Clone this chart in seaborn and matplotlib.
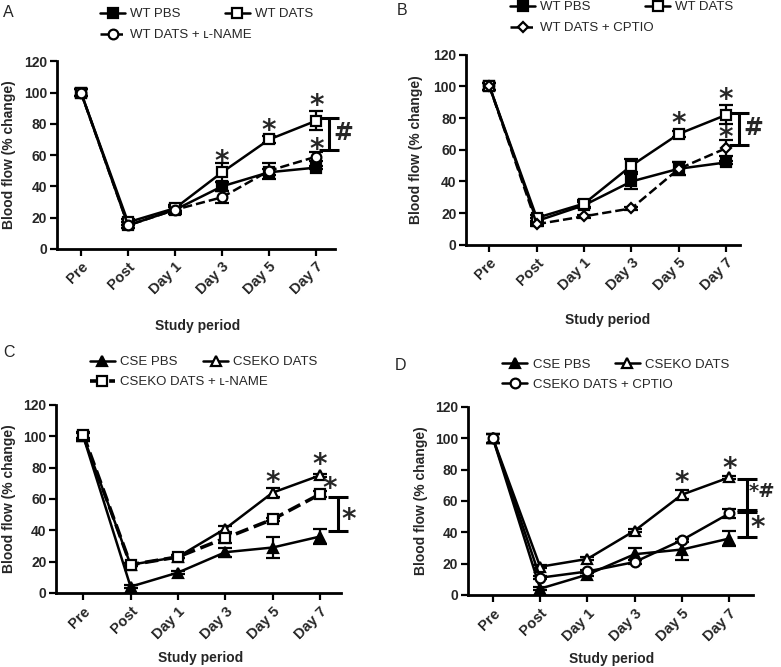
import numpy as np
import pandas as pd
import matplotlib
matplotlib.use("Agg")
import matplotlib.pyplot as plt
import seaborn as sns

periods = ["Pre", "Post", "Day 1", "Day 3", "Day 5", "Day 7"]

# panel A
a_wt_pbs = [100, 15, 25, 40, 49, 52]
a_wt_pbs_err = [2, 2, 3, 3, 2, 1]
a_wt_dats = [100, 17, 26, 49, 70, 82]
a_wt_dats_err = [2, 2, 2, 6, 2, 6]
a_lname = [100, 15, 25, 33, 50, 59]
a_lname_err = [2, 2, 2, 4, 5, 3]

# panel B
b_wt_pbs = [100, 15, 25, 40, 48, 52]
b_wt_pbs_err = [2, 2, 2, 5, 4, 1]
b_wt_dats = [100, 17, 26, 50, 70, 82]
b_wt_dats_err = [2, 2, 2, 4, 2, 6]
b_cptio = [100, 13, 18, 23, 48, 61]
b_cptio_err = [2, 1, 1, 1, 4, 5]

# panel C
c_cse_pbs = [100, 4, 13, 26, 29, 36]
c_cse_pbs_err = [2, 1, 1, 3, 7, 5]
c_cseko_dats = [100, 18, 23, 41, 64, 75]
c_cseko_dats_err = [3, 1, 1, 2, 3, 1]
c_lname = [101, 18, 23, 35, 47, 63]
c_lname_err = [2, 1, 1, 3, 1, 2]

# panel D
d_cse_pbs = [100, 4, 13, 26, 29, 36]
d_cse_pbs_err = [3, 1, 1, 4, 7, 5]
d_cseko_dats = [100, 18, 23, 41, 64, 75]
d_cseko_dats_err = [3, 1, 1, 1, 3, 1]
d_cptio = [100, 11, 15, 21, 35, 52]
d_cptio_err = [3, 1, 1, 1, 1, 3]

sns.set_theme(style="ticks")
plt.rcParams['font.family'] = ['Liberation Sans', 'DejaVu Sans']

fig = plt.figure(figsize=(7.81, 6.67), dpi=100)

x = np.arange(len(periods))


def draw_series(ax, vals, errs, label, marker, filled, ls="-", lw=1.8):
    df = pd.DataFrame({"period": x, "value": vals})
    sns.lineplot(data=df, x="period", y="value", ax=ax, color="black",
                 marker=marker, markersize=7 if marker != "D" else 5.5,
                 markerfacecolor="black" if filled else "white",
                 markeredgecolor="black", markeredgewidth=1.6,
                 linestyle=ls, linewidth=lw, label=label, zorder=3)
    ax.errorbar(x, vals, yerr=errs, fmt="none", ecolor="black",
                elinewidth=1.6, capsize=5, capthick=1.6, zorder=2)


def style_axes(ax, pos, xlim, xlab_pos, ylab_pos):
    ax.set_position(pos)
    ax.set_xlim(*xlim)
    ax.set_ylim(0, 120)
    ax.set_xticks(x)
    ax.set_xticklabels(periods, rotation=45, ha="right", rotation_mode="anchor",
                       fontsize=10.5, fontweight="bold")
    ax.set_yticks(np.arange(0, 121, 20))
    ax.set_yticklabels([str(v) for v in range(0, 121, 20)], fontsize=10, fontweight="bold")
    ax.tick_params(axis="both", width=1.6, length=5, color="black", pad=2)
    ax.tick_params(axis="x", pad=3)
    for s in ["left", "bottom"]:
        ax.spines[s].set_linewidth(2)
        ax.spines[s].set_color("black")
    sns.despine(ax=ax)
    ax.set_xlabel("Study period", fontsize=10, fontweight="bold")
    ax.set_ylabel("Blood flow (% change)", fontsize=10, fontweight="bold")
    ax.xaxis.set_label_coords(*xlab_pos)
    ax.yaxis.set_label_coords(*ylab_pos)


def add_legend(ax, anchors):
    # one small legend per entry so each sits where the reference has it
    handles, labels = ax.get_legend_handles_labels()
    legs = []
    for h, l, a in zip(handles, labels, anchors):
        leg = ax.legend([h], [l], loc="center left", bbox_to_anchor=a,
                        bbox_transform=fig.transFigure, frameon=False,
                        fontsize=9.5, handlelength=1.9, handletextpad=0.4,
                        borderpad=0, borderaxespad=0)
        legs.append(leg)
    for leg in legs[:-1]:
        ax.add_artist(leg)


def star(ax, xv, yv, txt="*", size=20, ha="center", dy=None):
    # the asterisk glyph sits high in its box, so nudge it down a little
    if dy is None:
        dy = -4 if txt == "*" else 0
    ax.annotate(txt, (xv, yv), xytext=(0, dy), textcoords="offset points",
                ha=ha, va="center", fontsize=size, fontweight="bold",
                annotation_clip=False, family="DejaVu Sans")


def bracket(ax, xv, low, high):
    ax.errorbar([xv], [(low + high) / 2], yerr=[(high - low) / 2], fmt="none",
                ecolor="black", elinewidth=2.2, capsize=7, capthick=2.2, clip_on=False)


# ---- A
axA = fig.add_axes([0, 0, 1, 1])
draw_series(axA, a_wt_pbs, a_wt_pbs_err, "WT PBS", "s", True)
draw_series(axA, a_wt_dats, a_wt_dats_err, "WT DATS", "s", False)
draw_series(axA, a_lname, a_lname_err, "WT DATS + \u029f-NAME", "o", False, ls="--")
style_axes(axA, [0.073, 0.627, 0.356, 0.281], (-0.51, 5.4), (0.507, -0.374), (-0.147, 0.5))
add_legend(axA, [(0.128, 0.979), (0.288, 0.979), (0.128, 0.9475)])
star(axA, 3, 59)
star(axA, 4, 79)
star(axA, 5, 95)
star(axA, 5, 67)
bracket(axA, 5.27, 63, 84)
star(axA, 5.58, 74, "#", size=17)

# ---- B
axB = fig.add_axes([0, 0, 1, 1])
draw_series(axB, b_wt_pbs, b_wt_pbs_err, "WT PBS", "s", True)
draw_series(axB, b_wt_dats, b_wt_dats_err, "WT DATS", "s", False)
draw_series(axB, b_cptio, b_cptio_err, "WT DATS + CPTIO", "D", False, ls="--")
style_axes(axB, [0.597, 0.633, 0.351, 0.285], (-0.49, 5.3), (0.515, -0.358), (-0.157, 0.5))
add_legend(axB, [(0.653, 0.9895), (0.826, 0.9895), (0.653, 0.958)])
star(axB, 4, 80)
star(axB, 5, 95)
star(axB, 5, 71)
bracket(axB, 5.28, 63, 83)
star(axB, 5.58, 74, "#", size=17)

# ---- C
axC = fig.add_axes([0, 0, 1, 1])
draw_series(axC, c_cse_pbs, c_cse_pbs_err, "CSE PBS", "^", True)
draw_series(axC, c_cseko_dats, c_cseko_dats_err, "CSEKO DATS", "^", False)
draw_series(axC, c_lname, c_lname_err, "CSEKO DATS + \u029f-NAME", "s", False, ls="--", lw=2.6)
style_axes(axC, [0.072, 0.111, 0.365, 0.282], (-0.57, 5.45), (0.505, -0.309), (-0.14, 0.5))
add_legend(axC, [(0.115, 0.457), (0.26, 0.457), (0.115, 0.427)])
star(axC, 4, 74)
star(axC, 5, 85)
star(axC, 5.2, 70)
bracket(axC, 5.38, 39.5, 61.5)
star(axC, 5.6, 50)

# ---- D
axD = fig.add_axes([0, 0, 1, 1])
draw_series(axD, d_cse_pbs, d_cse_pbs_err, "CSE PBS", "^", True)
draw_series(axD, d_cseko_dats, d_cseko_dats_err, "CSEKO DATS", "^", False)
draw_series(axD, d_cptio, d_cptio_err, "CSEKO DATS + CPTIO", "o", False)
style_axes(axD, [0.599, 0.108, 0.365, 0.282], (-0.53, 5.5), (0.505, -0.303), (-0.14, 0.5))
add_legend(axD, [(0.643, 0.453), (0.787, 0.453), (0.643, 0.423)])
star(axD, 4, 75)
star(axD, 5, 84)
bracket(axD, 5.38, 54, 74)
bracket(axD, 5.38, 37, 53)
star(axD, 5.98, 67, "*#", size=14, ha="right", dy=-1)
star(axD, 5.6, 46)

# panel letters
for letter, px, py in [("A", 0.004, 0.9925), ("B", 0.508, 0.995), ("C", 0.004, 0.483), ("D", 0.506, 0.463)]:
    fig.text(px, py, letter, fontsize=11.5, ha="left", va="top")

fig.savefig("out.png", dpi=100)
